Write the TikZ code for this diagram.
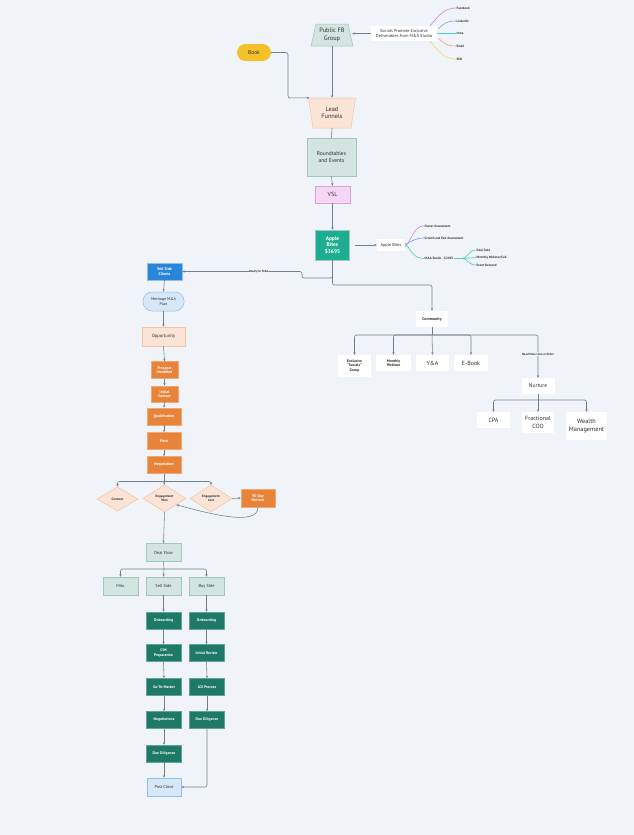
\documentclass[tikz,border=0pt]{standalone}
\usepackage{fontspec}
\setmainfont{PT Sans}
\usetikzlibrary{arrows.meta,shapes.geometric}
\definecolor{bgc}{HTML}{F0F3F7}
\definecolor{linec}{HTML}{6E7F8F}
\definecolor{txtc}{HTML}{2E2E2E}
\definecolor{tealf}{HTML}{D2E5E1}
\definecolor{tealb}{HTML}{9FC7BE}
\definecolor{peachf}{HTML}{FBE4D5}
\definecolor{peachb}{HTML}{F3C3A2}
\definecolor{pinkf}{HTML}{F5D7F5}
\definecolor{pinkb}{HTML}{D9A2DE}
\definecolor{tealdk}{HTML}{1DAD90}
\definecolor{bluedk}{HTML}{2A86DB}
\definecolor{bluef}{HTML}{D6E7F8}
\definecolor{blueb}{HTML}{8FBEEA}
\definecolor{orng}{HTML}{E8843A}
\definecolor{orngb}{HTML}{F2A873}
\definecolor{grn}{HTML}{1E7A66}
\definecolor{grnb}{HTML}{5FA595}
\definecolor{yel}{HTML}{F5C12B}
\definecolor{mmag}{HTML}{D47FE2}
\definecolor{mblue}{HTML}{6FA8E8}
\definecolor{mteal}{HTML}{4FCDBA}
\definecolor{morange}{HTML}{F2A06E}
\definecolor{myel}{HTML}{F5D463}
\tikzset{
  conn/.style={draw=linec, line width=0.55pt},
  arr/.style={conn, -{Stealth[length=2.6pt,width=2.2pt]}},
  bx/.style={rectangle, align=center, inner sep=0pt, text=txtc},
  lt/.style={bx, fill=tealf, draw=tealb, line width=0.5pt},
  pch/.style={bx, fill=peachf, draw=peachb, line width=0.5pt},
  org/.style={bx, fill=orng, draw=orngb, line width=0.5pt, text=white, font=\fontsize{3.8}{4.6}\selectfont\bfseries},
  gr/.style={bx, fill=grn, draw=grnb, line width=0.5pt, text=white, font=\fontsize{3.8}{4.6}\selectfont\bfseries, minimum width=35, minimum height=17},
  wb/.style={bx, fill=white},
  lb/.style={inner sep=0.5pt, text=txtc, font=\fontsize{3.2}{3.8}\selectfont\bfseries},
  dia/.style={diamond, align=center, inner sep=0pt, fill=peachf, draw=peachb, line width=0.5pt, text=txtc, font=\fontsize{3.3}{4}\selectfont\bfseries},
  mm/.style={line width=0.6pt},
  ls/.style={bx, fill=tealf, draw=tealb, line width=0.5pt, font=\fontsize{4.3}{5.2}\selectfont, minimum width=35, minimum height=18},
}
\begin{document}
\begin{tikzpicture}[x=1pt,y=-1pt]
\fill[bgc] (0,0) rectangle (634,835);
\useasboundingbox (0,0) rectangle (634,835);

% ---------- top ----------
\draw[fill=tealf, draw=tealb, line width=0.5pt] (316,24) -- (348,24) -- (353,46) -- (311,46) -- cycle;
\node[bx, minimum width=42, minimum height=22, font=\fontsize{6.3}{7.6}\selectfont] (fb) at (332,35) {Public FB\\Group};

\node[wb, minimum width=66, minimum height=15, font=\fontsize{4.3}{5.2}\selectfont] (soc) at (404,33.5) {Socials Promote Exclusive\\Deliverables from M\&A Studio};
\draw[arr] (soc.west) -- ([xshift=-1pt]fb.east |- soc.west);

\node[lb, anchor=west] (lfb) at (456,8) {Facebook};
\node[lb, anchor=west] (lli) at (456,21) {LinkedIn};
\node[lb, anchor=west] (lin) at (456,33.5) {Insta};
\node[lb, anchor=west] (lem) at (456,46) {Email};
\node[lb, anchor=west] (lse) at (456,59) {SEO};
\draw[mm, mmag] ([xshift=-7pt]soc.north east) .. controls +(8,-10) and +(-12,0) .. (lfb.west);
\draw[mm, mblue] ([xshift=1pt,yshift=-3pt]soc.north east) .. controls +(6,-5) and +(-10,0) .. (lli.west);
\draw[mm, mteal] (soc.east) -- (lin.west);
\draw[mm, morange] ([xshift=1pt,yshift=3pt]soc.south east) .. controls +(6,5) and +(-10,0) .. (lem.west);
\draw[mm, myel] ([xshift=-7pt]soc.south east) .. controls +(8,10) and +(-12,0) .. (lse.west);

\node[bx, fill=yel, rounded corners=8.5pt, minimum width=34, minimum height=17, font=\fontsize{5.5}{6.6}\selectfont] (book) at (254,52.5) {Book};

\draw[fill=peachf, draw=peachb, line width=0.5pt] (308.5,98) -- (355.5,98) -- (351,128) -- (313,128) -- cycle;
\node[bx, minimum width=47, minimum height=30, font=\fontsize{6.3}{7.6}\selectfont] (lead) at (332,113) {Lead\\Funnels};

\draw[arr] (fb.south) -- (lead.north);
\draw[arr, rounded corners=2pt] (book.east) -- (288,52.5) -- (288,98) -- ([xshift=1pt]lead.north west);

\node[lt, minimum width=49, minimum height=38, font=\fontsize{5.5}{6.8}\selectfont] (round) at (331.5,157) {Roundtables\\and Events};
\draw[conn] (lead.south) -- (round.north);

\node[bx, fill=pinkf, draw=pinkb, line width=0.5pt, minimum width=35, minimum height=17, font=\fontsize{6}{7}\selectfont] (vsl) at (332.5,194.5) {VSL};
\draw[arr] (round.south) -- (vsl.north);

\node[bx, fill=tealdk, draw=tealb, line width=0.4pt, text=white, minimum width=34, minimum height=30, font=\fontsize{5.4}{6.6}\selectfont\bfseries] (apple) at (332.5,245) {Apple\\Bites\\\$3695};
\draw[arr] (vsl.south) -- (apple.north);

% ---------- apple bites mind map ----------
\node[wb, minimum width=28, minimum height=12, font=\fontsize{4.3}{5.2}\selectfont] (ab) at (391,245) {Apple Bites};
\draw[arr] ([xshift=5pt]apple.east) -- (ab.west);
\node[lb, anchor=west] (own) at (424,226) {Owner Assessment};
\node[lb, anchor=west] (gro) at (424,238) {Growth and Exit Assessment};
\node[lb, anchor=west] (mas) at (424,258.5) {M\&A Studio - \$2495};
\draw[mm, mmag] ([yshift=-2pt]ab.east) .. controls +(8,-10) and +(-10,0) .. (own.west);
\draw[mm, mblue] (ab.east) .. controls +(6,-4) and +(-8,0) .. (gro.west);
\draw[mm, mteal] ([yshift=2pt]ab.east) .. controls +(6,8) and +(-10,0) .. (mas.west);
\node[lb, anchor=west] (dt) at (476,250) {Deal Tube};
\node[lb, anchor=west] (mw) at (476,257.5) {Monthly Webinar/Call};
\node[lb, anchor=west] (ed) at (476,265) {Event Demand};
\coordinate (mj) at (462,258.5);
\draw[line width=1.2pt, mteal] (mas.east) -- (mj);
\draw[mm, mteal] (mj) .. controls +(6,0) and +(-8,0) .. (dt.west);
\draw[mm, mteal] (mj) -- (mw.west);
\draw[mm, mteal] (mj) .. controls +(6,0) and +(-8,0) .. (ed.west);

% ---------- left column ----------
\node[bx, fill=bluedk, draw=blueb, line width=0.4pt, text=white, minimum width=35, minimum height=17, font=\fontsize{4}{4.8}\selectfont\bfseries] (sell) at (164.5,271.5) {Sell Side\\Clients};
\draw[arr, rounded corners=2pt] (apple.south) |- (302,278) |- (sell.east);
\node[lb, fill=bgc, font=\fontsize{3}{3.6}\selectfont\bfseries] (rdy) at (259,271.5) {Ready for M\&A};

\node[bx, fill=bluef, draw=blueb, line width=0.5pt, rounded corners=9pt, minimum width=41, minimum height=19, font=\fontsize{4}{4.8}\selectfont] (plan) at (163.5,301.5) {Meritage M\&A\\Plan};
\draw[arr] (sell.south) -- (plan.north);

\node[pch, minimum width=43, minimum height=19, font=\fontsize{4.5}{5.4}\selectfont] (opp) at (163.5,336.5) {Opportunity};
\draw[arr] (plan.south) -- (opp.north);

\node[org, minimum width=27, minimum height=17] (pros) at (164.5,370) {Prospect\\Identified};
\node[org, minimum width=27, minimum height=16] (init) at (164.5,394) {Initial\\Contact};
\node[org, minimum width=34, minimum height=17] (qual) at (164,416.5) {Qualification};
\node[org, minimum width=34, minimum height=17] (pitch) at (164,441) {Pitch};
\node[org, minimum width=34, minimum height=17] (nego) at (164,465) {Negotiation};
\draw[arr] (opp.south) -- (pros.north);
\draw[arr] (pros.south) -- (init.north);
\draw[arr] (init.south) -- (qual.north);
\draw[arr] (qual.south) -- (pitch.north);
\draw[arr] (pitch.south) -- (nego.north);

\node[dia, minimum width=41, minimum height=24] (contract) at (117.5,499) {Contract};
\node[dia, minimum width=43, minimum height=27] (won) at (164.5,498.5) {Engagement\\Won};
\node[dia, minimum width=42, minimum height=27] (lost) at (211,498.5) {Engagement\\Lost};
\node[org, minimum width=34, minimum height=18] (ninety) at (258,498) {90 Day\\Nurture};
\coordinate (nj) at (164,481.5);
\draw[conn] (nego.south) -- (nj);
\draw[arr, rounded corners=2pt] (nj) -| (contract.north);
\draw[arr] (nj) -- (won.north);
\draw[arr, rounded corners=2pt] (nj) -| (lost.north);
\draw[arr] (lost.east) -- (ninety.west);
\draw[arr] (ninety.south) .. controls +(0,20) and +(30,8) .. (won.-28);

\node[ls] (deal) at (163.5,552.5) {Deal Flow};
\draw[arr] (won.south) -- (deal.north);
\coordinate (dj) at (164,569);
\draw[conn] (deal.south) -- (dj);
\node[ls] (misc) at (120.5,586) {Misc};
\node[ls] (ss) at (163.5,586) {Sell Side};
\node[ls] (bs) at (206.5,586) {Buy Side};
\draw[arr, rounded corners=2pt] (dj) -| (misc.north);
\draw[arr] (dj) -- (ss.north);
\draw[arr, rounded corners=2pt] (dj) -| (bs.north);

\node[gr] (on1) at (163.5,620.5) {Onboarding};
\node[gr] (cim) at (163.5,653) {CIM\\Preparation};
\node[gr] (gtm) at (164,687) {Go-To-Market};
\node[gr] (neg2) at (164,720) {Negotiations};
\node[gr] (dd1) at (164,753.5) {Due Diligence};
\node[gr] (on2) at (206.5,620.5) {Onboarding};
\node[gr] (irv) at (206.5,653) {Initial Review};
\node[gr] (loi) at (207,687) {LOI Process};
\node[gr] (dd2) at (207,720) {Due Diligence};
\node[bx, fill=bluef, draw=blueb, line width=0.5pt, minimum width=34, minimum height=18, font=\fontsize{4.3}{5.2}\selectfont] (post) at (164,787) {Post Close};
\draw[arr] (ss.south) -- (on1.north);
\draw[arr] (on1.south) -- (cim.north);
\draw[arr] (cim.south) -- (gtm.north);
\draw[arr] (gtm.south) -- (neg2.north);
\draw[arr] (neg2.south) -- (dd1.north);
\draw[arr] (dd1.south) -- (post.north);
\draw[arr] (bs.south) -- (on2.north);
\draw[arr] (on2.south) -- (irv.north);
\draw[arr] (irv.south) -- (loi.north);
\draw[arr] (loi.south) -- (dd2.north);
\draw[arr, rounded corners=2pt] (dd2.south) |- (post.east);

% ---------- community ----------
\node[wb, minimum width=32, minimum height=16, font=\fontsize{4}{4.8}\selectfont\bfseries] (comm) at (432,319) {Community};
\draw[arr, rounded corners=2pt] (apple.south) |- (432,285) -- (comm.north);
\coordinate (cj) at (432,335);
\draw[conn] (comm.south) -- (cj);
\node[wb, minimum width=33, minimum height=22, font=\fontsize{3.8}{4.6}\selectfont\bfseries] (excl) at (354.5,366) {Exclusive\\``Socials''\\Group};
\node[wb, minimum width=35, minimum height=16, font=\fontsize{3.8}{4.6}\selectfont\bfseries] (web) at (393.5,363) {Monthly\\Webinar};
\node[wb, minimum width=33, minimum height=16, font=\fontsize{6}{7}\selectfont] (ya) at (432.5,363) {Y\&A};
\node[wb, minimum width=34, minimum height=16, font=\fontsize{6}{7}\selectfont] (ebook) at (471,363) {E-Book};
\node[wb, minimum width=33, minimum height=16, font=\fontsize{5.5}{6.6}\selectfont] (nurt) at (538,386) {Nurture};
\draw[arr, rounded corners=2pt] (cj) -| (excl.north);
\draw[arr, rounded corners=2pt] (cj) -| (web.north);
\draw[arr] (cj) -- (ya.north);
\draw[arr, rounded corners=2pt] (cj) -| (ebook.north);
\draw[arr, rounded corners=2pt] (cj) -| (nurt.north);
\node[lb, fill=bgc, font=\fontsize{3}{3.6}\selectfont\bfseries] (nmt) at (538,354) {Need More time or Other};

\coordinate (nuj) at (538,400);
\draw[conn] (nurt.south) -- (nuj);
\node[wb, minimum width=33, minimum height=16, font=\fontsize{6}{7}\selectfont] (cpa) at (493.5,420) {CPA};
\node[wb, minimum width=32, minimum height=21, font=\fontsize{6}{7.2}\selectfont] (coo) at (538,422.5) {Fractional\\COO};
\node[wb, minimum width=41, minimum height=28, font=\fontsize{6.3}{7.6}\selectfont] (wealth) at (586.5,426) {Wealth\\Management};
\draw[arr, rounded corners=2pt] (nuj) -| (cpa.north);
\draw[arr] (nuj) -- (coo.north);
\draw[arr, rounded corners=2pt] (nuj) -| (wealth.north);
\end{tikzpicture}
\end{document}
